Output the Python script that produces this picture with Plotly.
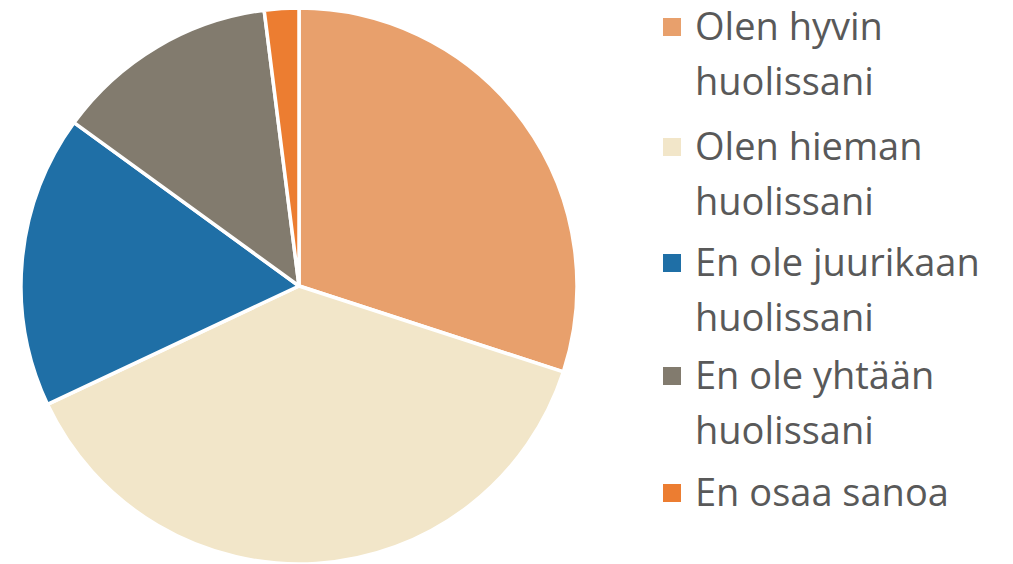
import plotly.graph_objects as go

labels = ["Olen hyvin huolissani", "Olen hieman huolissani", "En ole juurikaan huolissani",
          "En ole yhtään huolissani", "En osaa sanoa"]
legend_lines = [["Olen hyvin", "huolissani"], ["Olen hieman", "huolissani"],
                ["En ole juurikaan", "huolissani"], ["En ole yhtään", "huolissani"],
                ["En osaa sanoa"]]
values = [30, 38, 17, 13, 2]
colors = ["#E8A06C", "#F2E6C9", "#1F6FA6", "#827B6E", "#EC7D31"]

W, H = 1013, 564
OFF = 8          # page body margin
MB = 8
PH = H - MB

def px(x):
    return (x - OFF) / W

def py(y):
    return 1 - (y - OFF) / PH

fig = go.Figure(go.Pie(
    labels=labels, values=values, sort=False, direction="clockwise", rotation=0,
    marker=dict(colors=colors, line=dict(color="white", width=3.5)),
    textinfo="none", hoverinfo="label+percent", showlegend=False,
    domain=dict(x=[px(21), px(577)], y=[0, 1]),
))

first_baselines = [37, 157, 273, 386, 503]
line_gap = 55
fs = 38
annotations = []
shapes = []
for i, lines in enumerate(legend_lines):
    b0 = first_baselines[i]
    shapes.append(dict(type="rect", xref="paper", yref="paper",
                       x0=px(663), x1=px(681), y0=py(b0 - 1), y1=py(b0 - 19),
                       fillcolor=colors[i], line=dict(width=0)))
    for j, t in enumerate(lines):
        b = b0 + j * line_gap
        annotations.append(dict(text=t, xref="paper", yref="paper", x=px(693), y=py(b - 12),
                                xanchor="left", yanchor="middle", showarrow=False,
                                font=dict(size=fs, color="#595959", family="Open Sans")))

fig.update_layout(
    width=W, height=H, margin=dict(l=0, r=0, t=0, b=MB),
    paper_bgcolor="white", plot_bgcolor="white",
    annotations=annotations, shapes=shapes,
)
fig.write_html("out.html")
